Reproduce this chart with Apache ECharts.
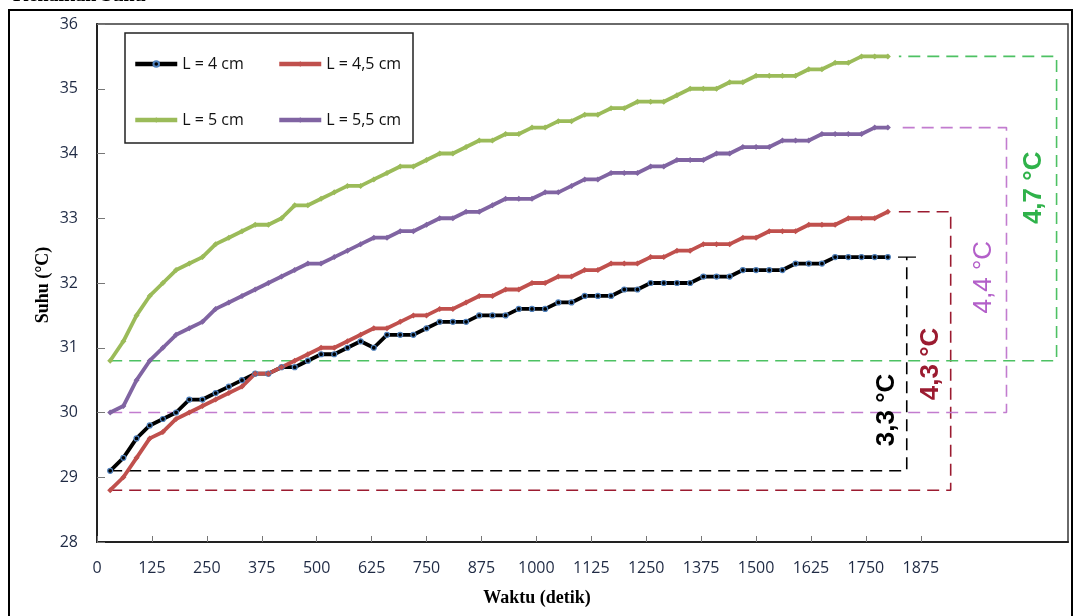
<!DOCTYPE html>
<html><head><meta charset="utf-8">
<script src="https://cdn.jsdelivr.net/npm/echarts@6/dist/echarts.min.js"></script>
<style>html,body{margin:0;padding:0;background:#fff}#c{width:1075px;height:616px}</style>
</head><body><div id="c"></div>
<script>
// ---- data ----
const timeSec = [30,60,90,120,150,180,210,240,270,300,330,360,390,420,450,480,510,540,570,600,
  630,660,690,720,750,780,810,840,870,900,930,960,990,1020,1050,1080,1110,1140,1170,1200,
  1230,1260,1290,1320,1350,1380,1410,1440,1470,1500,1530,1560,1590,1620,1650,1680,1710,1740,1770,1800];
const suhuL4 = [29.1,29.3,29.6,29.8,29.9,30.0,30.2,30.2,30.3,30.4,
  30.5,30.6,30.6,30.7,30.7,30.8,30.9,30.9,31.0,31.1,
  31.0,31.2,31.2,31.2,31.3,31.4,31.4,31.4,31.5,31.5,
  31.5,31.6,31.6,31.6,31.7,31.7,31.8,31.8,31.8,31.9,
  31.9,32.0,32.0,32.0,32.0,32.1,32.1,32.1,32.2,32.2,
  32.2,32.2,32.3,32.3,32.3,32.4,32.4,32.4,32.4,32.4];
const suhuL45 = [28.8,29.0,29.3,29.6,29.7,29.9,30.0,30.1,30.2,30.3,
  30.4,30.6,30.6,30.7,30.8,30.9,31.0,31.0,31.1,31.2,
  31.3,31.3,31.4,31.5,31.5,31.6,31.6,31.7,31.8,31.8,
  31.9,31.9,32.0,32.0,32.1,32.1,32.2,32.2,32.3,32.3,
  32.3,32.4,32.4,32.5,32.5,32.6,32.6,32.6,32.7,32.7,
  32.8,32.8,32.8,32.9,32.9,32.9,33.0,33.0,33.0,33.1];
const suhuL5 = [30.8,31.1,31.5,31.8,32.0,32.2,32.3,32.4,32.6,32.7,
  32.8,32.9,32.9,33.0,33.2,33.2,33.3,33.4,33.5,33.5,
  33.6,33.7,33.8,33.8,33.9,34.0,34.0,34.1,34.2,34.2,
  34.3,34.3,34.4,34.4,34.5,34.5,34.6,34.6,34.7,34.7,
  34.8,34.8,34.8,34.9,35.0,35.0,35.0,35.1,35.1,35.2,
  35.2,35.2,35.2,35.3,35.3,35.4,35.4,35.5,35.5,35.5];
const suhuL55 = [30.0,30.1,30.5,30.8,31.0,31.2,31.3,31.4,31.6,31.7,
  31.8,31.9,32.0,32.1,32.2,32.3,32.3,32.4,32.5,32.6,
  32.7,32.7,32.8,32.8,32.9,33.0,33.0,33.1,33.1,33.2,
  33.3,33.3,33.3,33.4,33.4,33.5,33.6,33.6,33.7,33.7,
  33.7,33.8,33.8,33.9,33.9,33.9,34.0,34.0,34.1,34.1,
  34.1,34.2,34.2,34.2,34.3,34.3,34.3,34.3,34.4,34.4];
const seriesNames = ['L = 4 cm','L = 4,5 cm','L = 5 cm','L = 5,5 cm'];
const xTickLabels = [0,125,250,375,500,625,750,875,1000,1125,1250,1375,1500,1625,1750,1875];
const riseLabels = ['3,3 °C','4,3 °C','4,7 °C','4,4 °C'];

// ---- styling / layout ----
const allSeries = [suhuL4, suhuL45, suhuL5, suhuL55];
const colors = ['#000000','#C0504D','#9BBB59','#8064A2'];
const bracketColors = ['#000000','#9B1B30','#4DC163','#C27CCF'];
const labelColors = ['#000000','#9B1B30','#2FB24A','#B35FC9'];
const labelWeights = ['bold','bold','bold','normal'];
const bracketX = [1843,1943,2184,2070];
const labelPos = [[1798,30.04],[1898,30.75],[2132,33.47],[2019,32.09]];
const tickFont = 'Open Sans';

const chart = echarts.init(document.getElementById('c'), null, {renderer:'canvas'});

const series = [];
allSeries.forEach((arr, k) => {
  const first = arr[0], last = arr[arr.length - 1];
  const bx = bracketX[k];
  const pts = [[timeSec[0], first],[bx, first],[bx, last]];
  if (k !== 0) pts.push([1825, last]);
  series.push({
    type:'line', data:pts, symbol:'none', silent:true, z:1,
    lineStyle:{color:bracketColors[k], width:1.6, type:[12,7]},
    animation:false
  });
  if (k === 0) {
    series.push({
      type:'line', data:[[bx-20,last],[bx+21,last]], symbol:'none', silent:true, z:1,
      lineStyle:{color:'#000', width:1.4}, animation:false
    });
  }
});
const symbols = ['circle','diamond','diamond','diamond'];
allSeries.forEach((arr, k) => {
  series.push({
    name: seriesNames[k], type:'line', z:3,
    data: timeSec.map((t, i) => [t, arr[i]]),
    symbol: symbols[k], symbolSize: k === 0 ? 5 : 6, showSymbol:true,
    lineStyle:{color:colors[k], width:3.8},
    itemStyle: k === 0 ? {color:'#000', borderColor:'#4F81BD', borderWidth:1.2} : {color:colors[k]},
    animation:false
  });
});

const legendPos = [[133,56],[277,56],[133,112],[277,112]];
const legends = seriesNames.map((n, i) => ({
  data:[n], left:legendPos[i][0], top:legendPos[i][1], padding:0,
  itemWidth:42, itemHeight:7, itemGap:0,
  lineStyle:{width:4.5},
  textStyle:{fontSize:16, color:'#111', fontFamily:tickFont}
}));

chart.setOption({
  backgroundColor:'#fff',
  animation:false,
  grid:{left:97, right:7, top:24, bottom:74, show:true, borderColor:'#3a3a3a', borderWidth:1.5},
  legend: legends,
  xAxis:{
    type:'value', min:0, max:2210,
    axisLine:{show:true, lineStyle:{color:'#222', width:2}},
    axisTick:{show:true, inside:true, length:6, customValues:xTickLabels, lineStyle:{color:'#777'}},
    axisLabel:{customValues:xTickLabels, fontSize:16, color:'#1F2A44', margin:18, fontFamily:tickFont,
      formatter: v => String(v)},
    splitLine:{show:false}
  },
  yAxis:{
    type:'value', min:28, max:36, interval:1,
    axisLine:{show:true, lineStyle:{color:'#222', width:2}},
    axisTick:{show:true, inside:true, length:8, lineStyle:{color:'#777'}},
    axisLabel:{fontSize:16, color:'#1F2A44', margin:19, fontFamily:tickFont},
    splitLine:{show:false}
  },
  series: series
});

const g = [
  {type:'rect', shape:{x:9, y:10, width:1063, height:640}, style:{fill:'none', stroke:'#000', lineWidth:2}, silent:true},
  {type:'rect', shape:{x:125, y:33, width:288, height:110}, style:{fill:'none', stroke:'#222', lineWidth:1.5}, silent:true, z:5},
  {type:'text', x:13, y:6, style:{text:'Kenaikan Suhu', font:'bold 20px "Liberation Serif"', fill:'#000', align:'left', verticalAlign:'bottom'}, silent:true},
  {type:'text', x:43, y:285, rotation:Math.PI/2, style:{text:'Suhu (°C)', font:'bold 18px "Liberation Serif"', fill:'#000', align:'center', verticalAlign:'middle'}, silent:true},
  {type:'text', x:537, y:598, style:{text:'Waktu (detik)', font:'bold 18px "Liberation Serif"', fill:'#000', align:'center', verticalAlign:'middle'}, silent:true}
];
riseLabels.forEach((t, k) => {
  const p = chart.convertToPixel({gridIndex:0}, labelPos[k]);
  g.push({type:'text', x:p[0], y:p[1], rotation:Math.PI/2, z:10,
    style:{text:t, font:labelWeights[k] + ' 26px "Liberation Sans"', fill:labelColors[k], align:'center', verticalAlign:'middle'}, silent:true});
});
chart.setOption({graphic:g});
</script>
</body></html>
